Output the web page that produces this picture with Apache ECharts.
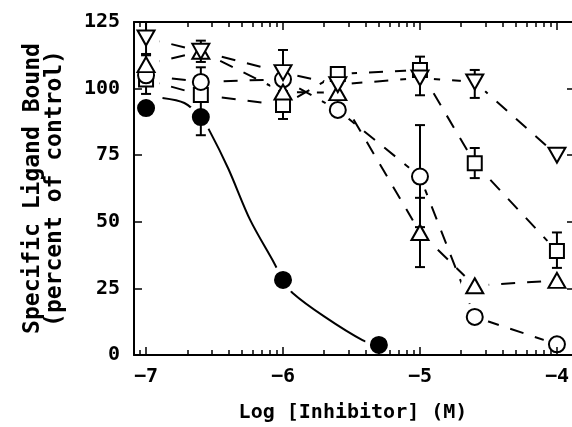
<!DOCTYPE html>
<html>
<head>
<meta charset="utf-8">
<script src="https://cdn.jsdelivr.net/npm/echarts@6/dist/echarts.min.js"></script>
<style>
  html, body {margin: 0; padding: 0; background: #fff;}
  #chart {width: 572px; height: 427px;}
</style>
</head>
<body>
<div id="chart"></div>
<script>
const fontFamily = 'DejaVu Sans Mono'
const black = '#000'

// concentrations, log [M]
const xVals = [-7, -6.6, -6, -5.6, -5, -4.6, -4]
const downTri = [119, 114, 106, 101.5, 104, 102.5, 75]
const upTri = [109, 114, 98.7, 98.5, 46, 26, 28]
const openCircle = [105, 102.5, 103.5, 92, 67, 14.3, 4]
const openSquare = [103.4, 97.6, 93.8, 105.5, 107, 72, 39]
const filledX = [-7, -6.6, -6, -5.3]
const filledY = [92.7, 89.3, 28.2, 3.8]

// error bars: [x, low, high]
const downTriErr = [[-7, 113, 125], [-6.6, 110, 118], [-6, 98, 114.5], [-5, 97.5, 112], [-4.6, 96.5, 107]]
const upTriErr = [[-7, 103, 112.5], [-5, 33, 59]]
const circleErr = [[-6.6, 97, 108], [-5, 48, 86.3]]
const squareErr = [[-7, 98, 108], [-6, 88.6, 99], [-4.6, 66.4, 77.7], [-4, 32.7, 46]]
const filledErr = [[-6.6, 82.5, 96]]

// fitted curve for the filled circles
const fitX = [-6.88, -6.72, -6.6, -6.54, -6.4, -6.24, -6.07, -6, -5.93, -5.7, -5.42, -5.3]
const fitY = [96.5, 94.6, 89.3, 84.5, 70, 50.7, 35, 28.2, 23.3, 14.5, 5.6, 3.8]

const majorTicks = [-7, -6, -5, -4]

const xMin = -7.088
const xMax = -3.89

// log minor ticks between decades
const minorTicks = []
for (let d = -8; d <= -5; d++) {
  for (let k = 2; k <= 9; k++) {
    const v = d + Math.log10(k)
    if (v > xMin && v < xMax) minorTicks.push(v)
  }
}

const pairs = ys => xVals.map((x, i) => [x, ys[i]])

const dashLine = ys => ({
  type: 'line',
  data: pairs(ys),
  symbol: 'none',
  lineStyle: {color: black, width: 2, type: [14, 12]},
  z: 2,
  silent: true,
})

const markers = (ys, symbol, size, rotate, fill) => ({
  type: 'scatter',
  data: ys,
  symbol,
  symbolSize: size,
  symbolRotate: rotate,
  itemStyle: {color: fill, borderColor: black, borderWidth: 2, opacity: 1},
  z: 5,
  silent: true,
})

const errorBars = data => ({
  type: 'custom',
  data,
  z: 4,
  silent: true,
  renderItem: (params, api) => {
    const x = api.value(0)
    const lo = api.coord([x, api.value(1)])
    const hi = api.coord([x, api.value(2)])
    const cap = 5
    const style = {stroke: black, lineWidth: 2}
    return {
      type: 'group',
      children: [
        {type: 'line', shape: {x1: lo[0], y1: lo[1], x2: hi[0], y2: hi[1]}, style},
        {type: 'line', shape: {x1: lo[0] - cap, y1: lo[1], x2: lo[0] + cap, y2: lo[1]}, style},
        {type: 'line', shape: {x1: hi[0] - cap, y1: hi[1], x2: hi[0] + cap, y2: hi[1]}, style},
      ],
    }
  },
})

// white halo under each marker, so lines stop short of the symbols
const haloData = []
;[downTri, upTri, openCircle, openSquare].forEach(ys => pairs(ys).forEach(p => haloData.push(p)))
filledX.forEach((x, i) => haloData.push([x, filledY[i]]))

const tickStyle = {color: black, width: 1.5}
const labelText = {fontFamily, fontSize: 20, fontWeight: 'bold', color: black}

const option = {
  backgroundColor: '#fff',
  animation: false,
  grid: {left: 134, right: 0, top: 22, bottom: 72, containLabel: false, outerBoundsMode: 'none'},
  xAxis: [{
    type: 'value',
    position: 'bottom',
    min: xMin,
    max: xMax,
    z: 10,
    axisLine: {lineStyle: {color: black, width: 2}},
    splitLine: {show: false},
    axisTick: {inside: true, length: 8, customValues: majorTicks, lineStyle: tickStyle},
    axisLabel: {
      ...labelText,
      customValues: majorTicks,
      formatter: v => '\u2212' + Math.abs(v),
      margin: 12,
    },
    name: 'Log [Inhibitor] (M)',
    nameLocation: 'middle',
    nameGap: 48,
    nameTextStyle: {...labelText},
  }, {
    type: 'value',
    position: 'bottom',
    min: xMin,
    max: xMax,
    z: 10,
    axisLine: {show: false},
    splitLine: {show: false},
    axisTick: {inside: true, length: 5, customValues: minorTicks, lineStyle: tickStyle},
    axisLabel: {show: false},
  }, {
    type: 'value',
    position: 'top',
    min: xMin,
    max: xMax,
    z: 10,
    axisLine: {lineStyle: {color: black, width: 2}},
    splitLine: {show: false},
    axisTick: {inside: true, length: 8, customValues: majorTicks, lineStyle: tickStyle},
    axisLabel: {show: false},
  }, {
    type: 'value',
    position: 'top',
    min: xMin,
    max: xMax,
    z: 10,
    axisLine: {show: false},
    splitLine: {show: false},
    axisTick: {inside: true, length: 5, customValues: minorTicks, lineStyle: tickStyle},
    axisLabel: {show: false},
  }],
  yAxis: [{
    type: 'value',
    position: 'left',
    min: 0,
    max: 125,
    interval: 25,
    z: 10,
    axisLine: {lineStyle: {color: black, width: 2}},
    splitLine: {show: false},
    axisTick: {inside: true, length: 8, lineStyle: tickStyle},
    axisLabel: {...labelText, margin: 14},
    name: 'Specific Ligand Bound\n(percent of control)',
    nameLocation: 'middle',
    nameRotate: 90,
    nameGap: 68,
    nameTextStyle: {...labelText, fontSize: 23, lineHeight: 22},
  }, {
    type: 'value',
    position: 'right',
    min: 0,
    max: 125,
    interval: 25,
    z: 10,
    axisLine: {show: false},
    splitLine: {show: false},
    axisTick: {inside: true, length: 5, lineStyle: tickStyle},
    axisLabel: {show: false},
  }],
  series: [
    dashLine(downTri),
    dashLine(upTri),
    dashLine(openCircle),
    dashLine(openSquare),
    {
      type: 'line',
      data: fitX.map((x, i) => [x, fitY[i]]),
      symbol: 'none',
      smooth: 0.3,
      lineStyle: {color: black, width: 2},
      z: 2,
      silent: true,
    },
    {
      type: 'scatter',
      data: haloData,
      symbol: 'circle',
      symbolSize: 28,
      itemStyle: {color: '#fff', opacity: 1},
      z: 3,
      silent: true,
    },
    errorBars(downTriErr),
    errorBars(upTriErr),
    errorBars(circleErr),
    errorBars(squareErr),
    errorBars(filledErr),
    markers(pairs(openSquare), 'rect', 14, 0, '#fff'),
    markers(pairs(openCircle), 'circle', 16, 0, '#fff'),
    markers(pairs(upTri), 'triangle', [17, 15], 0, '#fff'),
    markers(pairs(downTri), 'triangle', [17, 15], 180, '#fff'),
    markers(filledX.map((x, i) => [x, filledY[i]]), 'circle', 16, 0, black),
  ],
}

const chart = echarts.init(document.getElementById('chart'), null, {renderer: 'canvas'})
chart.setOption(option)
</script>
</body>
</html>
